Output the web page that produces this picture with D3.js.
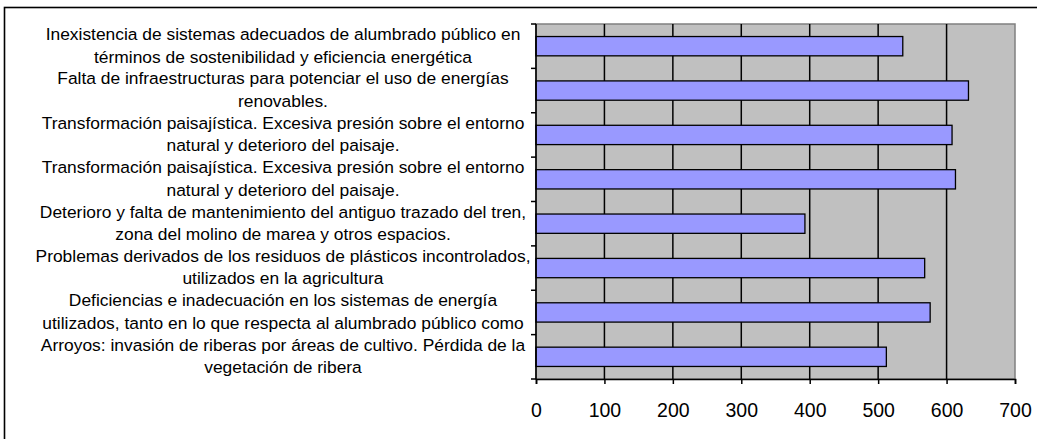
<!DOCTYPE html>
<html>
<head>
<meta charset="utf-8">
<script src="https://cdn.jsdelivr.net/npm/d3@7"></script>
<style>
  html, body { margin: 0; padding: 0; background: #ffffff; }
  svg { display: block; }
  text { font-family: "Liberation Sans", Arial, sans-serif; fill: #000; }
</style>
</head>
<body>
<svg id="chart" width="1037" height="439"></svg>
<script>
// Category labels (each wrapped onto two lines, top to bottom)
const categories = [
  ["Inexistencia de sistemas adecuados de alumbrado público en", "términos de sostenibilidad y eficiencia energética"],
  ["Falta de infraestructuras para potenciar el uso de energías", "renovables."],
  ["Transformación paisajística. Excesiva presión sobre el entorno", "natural y deterioro del paisaje."],
  ["Transformación paisajística. Excesiva presión sobre el entorno", "natural y deterioro del paisaje."],
  ["Deterioro y falta de mantenimiento del antiguo trazado del tren,", "zona del molino de marea y otros espacios."],
  ["Problemas derivados de los residuos de plásticos incontrolados,", "utilizados en la agricultura"],
  ["Deficiencias e inadecuación en los sistemas de energía", "utilizados, tanto en lo que respecta al alumbrado público como"],
  ["Arroyos: invasión de riberas por áreas de cultivo. Pérdida de la", "vegetación de ribera"]
];
const values = [536, 632, 608, 613, 393, 568, 576, 512];
const xTicks = [0, 100, 200, 300, 400, 500, 600, 700];

const svg = d3.select("#chart");

// Plot rectangle
const plot = { left: 536, top: 24, right: 1015, bottom: 379 };

const x = d3.scaleLinear().domain([0, 700]).range([plot.left, plot.right]);
const y = d3.scaleBand()
  .domain(d3.range(categories.length))
  .range([plot.top, plot.bottom])
  .paddingInner(0.565)
  .paddingOuter(0.2825);

// Outer chart frame (runs off the right and bottom edges)
svg.append("rect")
  .attr("x", 4.5).attr("y", 7.5)
  .attr("width", 1040).attr("height", 440)
  .attr("fill", "none").attr("stroke", "#000").attr("stroke-width", 1.6);

// Plot background
svg.append("rect")
  .attr("x", plot.left).attr("y", plot.top)
  .attr("width", plot.right - plot.left).attr("height", plot.bottom - plot.top)
  .attr("fill", "#c0c0c0")
  .attr("stroke", "#808080").attr("stroke-width", 1.5);

// Vertical gridlines
svg.append("g")
  .selectAll("line")
  .data(xTicks.filter(d => d > 0 && d < 700))
  .join("line")
  .attr("x1", d => x(d)).attr("x2", d => x(d))
  .attr("y1", plot.top).attr("y2", plot.bottom)
  .attr("stroke", "#000").attr("stroke-width", 1.5);

// Bars
svg.append("g")
  .selectAll("rect")
  .data(values)
  .join("rect")
  .attr("x", x(0))
  .attr("y", (d, i) => y(i))
  .attr("width", d => x(d) - x(0))
  .attr("height", y.bandwidth())
  .attr("fill", "#9999ff")
  .attr("stroke", "#000").attr("stroke-width", 1.3);

// X axis
const xAxis = d3.axisBottom(x).tickValues(xTicks).tickSize(5).tickPadding(19);
const gx = svg.append("g")
  .attr("transform", `translate(0,${plot.bottom})`)
  .call(xAxis);
gx.select(".domain").attr("stroke", "#000").attr("stroke-width", 1.6);
gx.selectAll(".tick line").attr("stroke", "#000").attr("stroke-width", 1.5);
gx.selectAll(".tick text")
  .attr("font-size", "19.5px")
  .style("font-family", "'Liberation Sans', Arial, sans-serif")
  .attr("fill", "#000");

// Y axis: line with tick marks on category boundaries
const step = y.step();
const bounds = d3.range(categories.length + 1).map(k => plot.top + k * step);
svg.append("line")
  .attr("x1", plot.left).attr("x2", plot.left)
  .attr("y1", plot.top).attr("y2", plot.bottom)
  .attr("stroke", "#000").attr("stroke-width", 1.6);
svg.append("g")
  .selectAll("line")
  .data(bounds)
  .join("line")
  .attr("x1", plot.left - 5).attr("x2", plot.left)
  .attr("y1", d => d).attr("y2", d => d)
  .attr("stroke", "#000").attr("stroke-width", 1.5);

// Category labels
const labelX = 283;
const lineGap = 22.5;
const labels = svg.append("g");
categories.forEach((lines, i) => {
  const cy = y(i) + y.bandwidth() / 2 - 1;
  const t = labels.append("text")
    .attr("text-anchor", "middle")
    .attr("font-size", "17.4px");
  lines.forEach((ln, j) => {
    t.append("tspan")
      .attr("x", labelX)
      .attr("y", cy + (j - (lines.length - 1) / 2) * lineGap)
      .attr("dy", "0.35em")
      .text(ln);
  });
});
</script>
</body>
</html>
